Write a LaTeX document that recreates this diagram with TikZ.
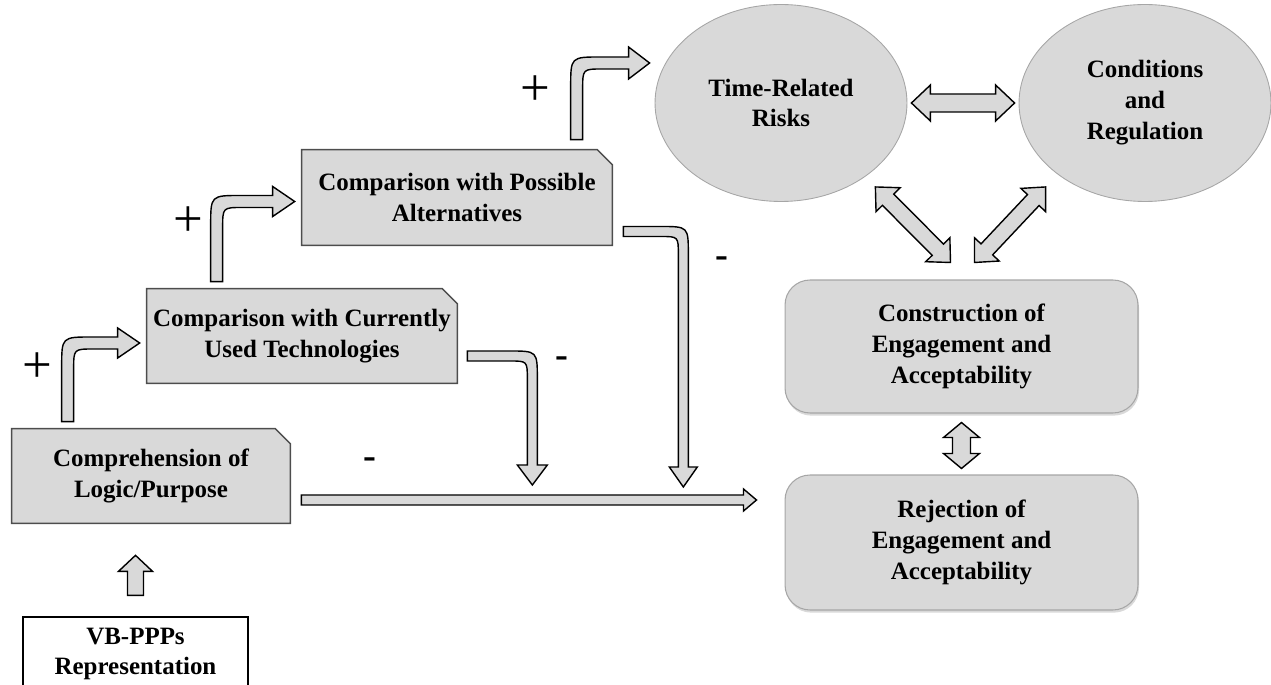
\documentclass[tikz,border=0pt]{standalone}
\usepackage{fontspec}
\setmainfont{Liberation Serif}
\usetikzlibrary{calc,shapes.geometric,shadows,backgrounds}

\definecolor{boxgray}{HTML}{D9D9D9}
\definecolor{edgegray}{HTML}{4D4D4D}
\definecolor{softgray}{HTML}{A6A6A6}

\tikzset{
  txt/.style={font=\fontsize{14.2}{17.6}\selectfont\bfseries, align=center, inner sep=0pt},
  snip/.style={fill=boxgray, draw=edgegray, line width=0.8pt},
  roundbox/.style={txt, draw=softgray, fill=boxgray, rounded corners=0.5cm, line width=0.6pt,
    minimum width=7.06cm, drop shadow={shadow xshift=0.6pt, shadow yshift=-1.5pt, opacity=0.3}},
  oval/.style={txt, ellipse, draw=softgray, fill=boxgray, line width=0.5pt,
    minimum width=5.04cm, minimum height=3.94cm},
  barrow/.style={fill=boxgray, draw=black, line width=0.8pt, line join=miter},
  plus/.style={font=\fontsize{30}{30}\selectfont, inner sep=0pt},
  minus/.style={font=\fontsize{22}{22}\selectfont\bfseries, inner sep=0pt}
}

% straight block arrow, tip at #2
\newcommand\blockarrow[5]{%
  \coordinate (ba-h) at ($(#2)!#5!(#1)$);
  \draw[barrow] ($(#1)!#3!90:(#2)$) -- ($(ba-h)!#3!90:(#2)$) -- ($(ba-h)!#4!90:(#2)$) -- (#2)
    -- ($(ba-h)!#4!-90:(#2)$) -- ($(ba-h)!#3!-90:(#2)$) -- ($(#1)!#3!-90:(#2)$) -- cycle;}

% block arrow with two heads
\newcommand\dblarrow[5]{%
  \coordinate (da-p) at ($(#1)!#5!(#2)$);
  \coordinate (da-q) at ($(#2)!#5!(#1)$);
  \draw[barrow] (#1) -- ($(da-p)!#4!90:(#2)$) -- ($(da-p)!#3!90:(#2)$) -- ($(da-q)!#3!90:(#2)$)
    -- ($(da-q)!#4!90:(#2)$) -- (#2) -- ($(da-q)!#4!-90:(#2)$) -- ($(da-q)!#3!-90:(#2)$)
    -- ($(da-p)!#3!-90:(#2)$) -- ($(da-p)!#4!-90:(#2)$) -- cycle;}

% bent block arrow: up, then right
\newcommand\bendup[7]{%
  \coordinate (bu-c) at (#1 |- #2);
  \draw[barrow] ($(#1)+(-#3,0)$) -- ($(bu-c)+(-#3,-#3+#6)$) .. controls ($(bu-c)+(-#3,-#3)$) .. ($(bu-c)+(-#3+#6,-#3)$)
    -- ($(#2)+(-#5,-#3)$) -- ($(#2)+(-#5,-#4)$) -- (#2) -- ($(#2)+(-#5,#4)$) -- ($(#2)+(-#5,#3)$)
    -- ($(bu-c)+(#3+#7,#3)$) .. controls ($(bu-c)+(#3,#3)$) .. ($(bu-c)+(#3,#3+#7)$) -- ($(#1)+(#3,0)$) -- cycle;}

% bent block arrow: right, then down
\newcommand\benddown[7]{%
  \coordinate (bd-c) at (#2 |- #1);
  \draw[barrow] ($(#1)+(0,-#3)$) -- ($(bd-c)+(#3-#6,-#3)$) .. controls ($(bd-c)+(#3,-#3)$) .. ($(bd-c)+(#3,-#3+#6)$)
    -- ($(#2)+(#3,-#5)$) -- ($(#2)+(#4,-#5)$) -- (#2) -- ($(#2)+(-#4,-#5)$) -- ($(#2)+(-#3,-#5)$)
    -- ($(bd-c)+(-#3,#3+#7)$) .. controls ($(bd-c)+(-#3,#3)$) .. ($(bd-c)+(-#3-#7,#3)$) -- ($(#1)+(0,#3)$) -- cycle;}

\begin{document}
\begin{tikzpicture}[x=0.02cm, y=-0.02cm]
	\useasboundingbox (0,0) rectangle (1271,685);

	% left column
	\node[txt, minimum width=5.56cm, minimum height=1.88cm] (comp) at (151,476) {Comprehension of\\Logic/Purpose};
	\node[txt, minimum width=6.2cm, minimum height=1.88cm] (curr) at (302,336) {Comparison with Currently\\Used Technologies};
	\node[txt, minimum width=6.2cm, minimum height=1.9cm] (alt) at (457,197.5) {Comparison with Possible\\Alternatives};
	\node[txt, draw, fill=white, line width=0.8pt, minimum width=4.5cm, minimum height=1.48cm] (vb) at (135.5,654) {VB-PPPs\\Representation};

	\begin{scope}[on background layer]
		\foreach \n in {comp,curr,alt}
			\draw[snip] (\n.north west) -- ([xshift=-0.3cm]\n.north east) -- ([yshift=-0.3cm]\n.north east) -- (\n.south east) -- (\n.south west) -- cycle;
	\end{scope}

	% ovals
	\node[oval] (time) at (781,103) {Time-Related\\Risks};
	\node[oval] (cond) at (1145,103) {Conditions\\and\\Regulation};

	% outcomes
	\node[roundbox, minimum height=2.66cm] (cons) at (961.5,346.5) {Construction of\\Engagement and\\Acceptability};
	\node[roundbox, minimum height=2.7cm] (rej) at (961.5,542.5) {Rejection of\\Engagement and\\Acceptability};

	% up arrow
	\coordinate (u0) at ($(vb.north)+(0,-21)$);
	\coordinate (u1) at ($(u0 |- comp.south)+(0,32)$);
	\blockarrow{u0}{u1}{0.16cm}{0.34cm}{0.32cm}

	% + arrows
	\coordinate (p1) at ($(comp.north west)+(56,-7)$);
	\coordinate (t1) at ($(curr.west)+(-7,7)$);
	\bendup{p1}{t1}{6}{15}{22}{30}{20}
	\coordinate (p2) at ($(curr.north west)+(70,-7)$);
	\coordinate (t2) at ($(alt.west)+(-7,4)$);
	\bendup{p2}{t2}{6}{15}{22}{30}{20}
	\coordinate (p3) at ($(alt.north west)+(275,-10)$);
	\coordinate (t3) at ($(time.west)+(-5,-40)$);
	\bendup{p3}{t3}{6}{16}{21}{30}{20}

	% - arrows
	\coordinate (l0) at ($(comp.east)+(11,24)$);
	\coordinate (l1) at ($(l0 -| rej.west)+(-28,0)$);
	\blockarrow{l0}{l1}{0.1cm}{0.22cm}{0.26cm}
	\coordinate (p4) at ($(curr.east)+(10,20)$);
	\coordinate (t4) at ($(l0)+(231,-15)$);
	\benddown{p4}{t4}{5}{15}{20}{28}{18}
	\coordinate (p5) at ($(alt.east)+(11,34)$);
	\coordinate (t5) at ($(l0)+(382,-13)$);
	\benddown{p5}{t5}{5}{14}{20}{28}{18}

	% two-way arrows
	\dblarrow{$(time.east)+(4,0)$}{$(cond.west)+(-4,0)$}{0.18cm}{0.36cm}{0.38cm}
	\coordinate (d1) at ($(time.south east)+(5,14)$);
	\coordinate (d2) at ($(cons.north)+(-11,-17)$);
	\dblarrow{d1}{d2}{0.16cm}{0.34cm}{0.36cm}
	\coordinate (d3) at ($(cond.south west)+(-10,14)$);
	\coordinate (d4) at ($(cons.north)+(13,-17)$);
	\dblarrow{d3}{d4}{0.16cm}{0.34cm}{0.36cm}
	\coordinate (v1) at ($(cons.south)+(0,9)$);
	\coordinate (v2) at ($(rej.north)+(0,-6)$);
	\dblarrow{v1}{v2}{0.18cm}{0.36cm}{0.3cm}

	% signs
	\node[plus] (plus1) at (37,368) {+};
	\node[plus] (plus2) at (188,222) {+};
	\node[plus] (plus3) at (535,91) {+};
	\node[minus] (minus1) at (370,463) {-};
	\node[minus] (minus2) at (562,362) {-};
	\node[minus] (minus3) at (722,262) {-};

\end{tikzpicture}
\end{document}
